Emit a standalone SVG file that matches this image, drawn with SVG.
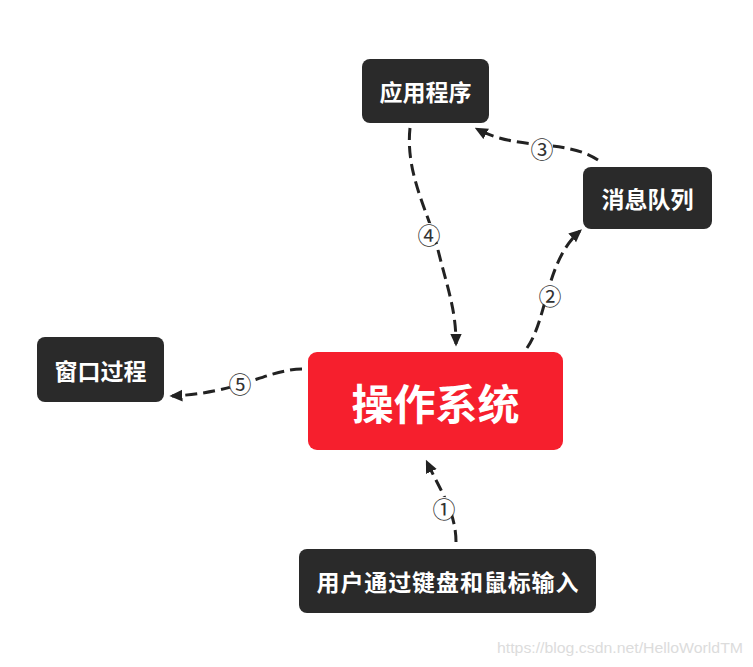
<svg xmlns="http://www.w3.org/2000/svg" width="753" height="667" viewBox="0 0 753 667">
<style>
.box{fill:#2a2a2a}
.lbl{font-family:"Noto Sans CJK SC","Noto Sans",sans-serif;font-weight:bold;fill:#ffffff;text-anchor:middle;dominant-baseline:central}
.edge{fill:none;stroke:#222222;stroke-width:3;stroke-dasharray:12 6;marker-end:url(#arr)}
.num{font-family:"Noto Sans CJK SC","DejaVu Sans",sans-serif;font-size:23px;fill:#333333;text-anchor:middle;dominant-baseline:central}
.bg{fill:#ffffff}
</style>
<defs>
<marker id="arr" viewBox="0 0 10 10" refX="8" refY="5" markerWidth="13" markerHeight="13" markerUnits="userSpaceOnUse" orient="auto">
<path d="M0,0.5 L10,5 L0,9.5 z" fill="#222222"/>
</marker>
</defs>
<rect width="753" height="667" fill="#ffffff"/>
<g id="connectors">
<path class="edge" d="M456,542 C456,512 440,490 427,462"/>
<path class="edge" d="M527,348 C548,318 545,262 580,231"/>
<path class="edge" d="M598,160 C565,138 520,152 477,129"/>
<path class="edge" d="M410,128 C405,175 430,215 438,250 C448,290 456,310 456,344"/>
<path class="edge" d="M302,369 C265,370 240,393 172,396"/>
<circle class="bg" cx="444" cy="508" r="11"/>
<text class="num" x="444" y="508">①</text>
<circle class="bg" cx="550" cy="295" r="11"/>
<text class="num" x="550" y="295">②</text>
<circle class="bg" cx="542" cy="148" r="11"/>
<text class="num" x="542" y="148">③</text>
<circle class="bg" cx="429" cy="234" r="11"/>
<text class="num" x="429" y="234">④</text>
<circle class="bg" cx="240" cy="383" r="11"/>
<text class="num" x="240" y="383">⑤</text>
</g>
<g id="app">
<rect class="box" x="362" y="59" width="127" height="64" rx="8"/>
<text class="lbl" x="425.5" y="91" font-size="23">应用程序</text>
</g>
<g id="queue">
<rect class="box" x="583" y="167" width="129" height="62" rx="8"/>
<text class="lbl" x="647.5" y="198" font-size="23">消息队列</text>
</g>
<g id="winproc">
<rect class="box" x="37" y="337" width="127" height="65" rx="8"/>
<text class="lbl" x="100.5" y="369.5" font-size="23">窗口过程</text>
</g>
<g id="os">
<rect x="308" y="352" width="255" height="98" rx="9" fill="#f61f2d"/>
<text class="lbl" x="435.5" y="401" font-size="42">操作系统</text>
</g>
<g id="input">
<rect class="box" x="299" y="549" width="297" height="64" rx="8"/>
<text class="lbl" x="447.5" y="581" font-size="23" textLength="262" lengthAdjust="spacing">用户通过键盘和鼠标输入</text>
</g>
<text x="497" y="653" font-family="Liberation Sans, Arial, sans-serif" font-size="14" fill="#dcdcdc" textLength="246" lengthAdjust="spacingAndGlyphs">https://blog.csdn.net/HelloWorldTM</text>
</svg>
